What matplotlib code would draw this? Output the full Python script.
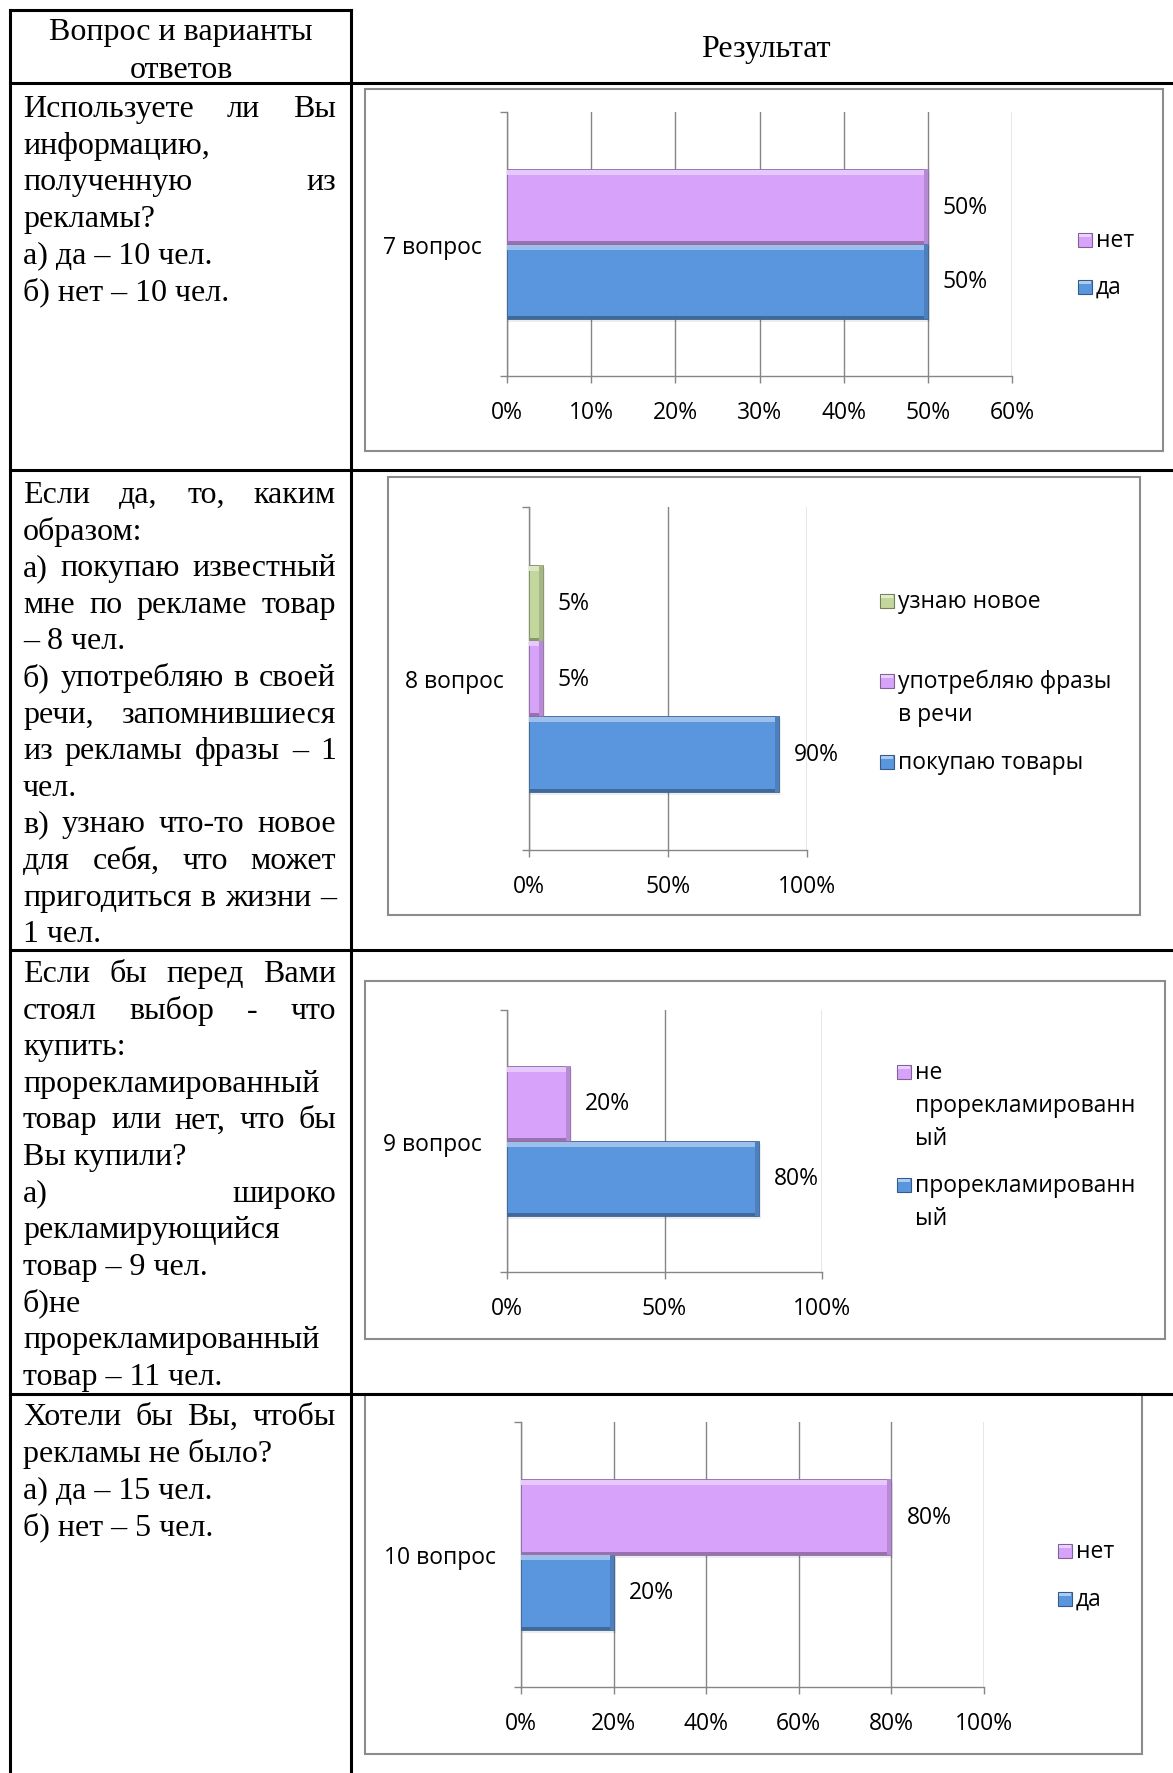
import numpy as np
import matplotlib
matplotlib.use("Agg")
import matplotlib.pyplot as plt
import matplotlib.colors as mcolors
from matplotlib.patches import Rectangle
from matplotlib.ticker import PercentFormatter

W, H = 1173, 1774

# survey results, % of respondents (first series is drawn at the bottom)
categories = ["7 вопрос", "8 вопрос", "9 вопрос", "10 вопрос"]
q7_labels = ["да", "нет"]
q7_values = [50, 50]
q8_labels = ["покупаю товары", "употребляю фразы\nв речи", "узнаю новое"]
q8_values = [90, 5, 5]
q9_labels = ["прорекламированн\nый", "не\nпрорекламированн\nый"]
q9_values = [80, 20]
q10_labels = ["да", "нет"]
q10_values = [20, 80]

series_colors = ["#5A96DE", "#D7A3FA", "#C3D69B"]

# left column: paragraphs split into lines as they wrap in the cell
row_text = [
    [["Используете ли Вы", "информацию,", "полученную из", "рекламы?"],
     ["а) да – 10 чел."],
     ["б) нет – 10 чел."]],
    [["Если да, то, каким", "образом:"],
     ["а) покупаю известный", "мне по рекламе товар", "– 8 чел."],
     ["б) употребляю в своей", "речи, запомнившиеся", "из рекламы фразы – 1", "чел."],
     ["в) узнаю что-то новое", "для себя, что может", "пригодиться в жизни –", "1 чел."]],
    [["Если бы перед Вами", "стоял выбор - что", "купить:", "прорекламированный",
      "товар или нет, что бы", "Вы купили?"],
     ["а) широко", "рекламирующийся", "товар – 9 чел."],
     ["б)не", "прорекламированный", "товар – 11 чел."]],
    [["Хотели бы Вы, чтобы", "рекламы не было?"],
     ["а) да – 15 чел."],
     ["б) нет – 5 чел."]],
]
row_first_baseline = [117, 503, 982, 1425]
line_step = 36.6

charts = [
    dict(cat=categories[0], labels=q7_labels, values=q7_values, xmax=60, step=10,
         box=(365, 90, 1163, 452), plot=(507, 113, 1012, 377), bar_px=75,
         legend_x=1078, legend_y=[288, 241]),
    dict(cat=categories[1], labels=q8_labels, values=q8_values, xmax=100, step=50,
         box=(388, 478, 1140, 916), plot=(529, 508, 807, 851), bar_px=75.5,
         legend_x=880, legend_y=[763, 682, 602]),
    dict(cat=categories[2], labels=q9_labels, values=q9_values, xmax=100, step=50,
         box=(365, 982, 1165, 1340), plot=(507, 1011, 822, 1273), bar_px=75,
         legend_x=897, legend_y=[1186, 1073]),
    dict(cat=categories[3], labels=q10_labels, values=q10_values, xmax=100, step=20,
         box=(365, 1395, 1142, 1755), plot=(521, 1423, 984, 1688), bar_px=75.5,
         legend_x=1058, legend_y=[1600, 1552]),
]

plt.rcParams["font.family"] = "Open Sans"
SERIF = "Liberation Serif"
SERIF_SIZE = 23
LABEL_SIZE = 16.5
GRID = "#868686"


def mix(color, other, t):
    c = np.array(mcolors.to_rgb(color))
    o = np.array(mcolors.to_rgb(other))
    return tuple(c * (1 - t) + o * t)


def to_fig(x0, y0, x1, y1):
    return [x0 / W, 1 - y1 / H, (x1 - x0) / W, (y1 - y0) / H]


fig = plt.figure(figsize=(W / 100, H / 100), dpi=100)
bg = fig.add_axes([0, 0, 1, 1])
bg.set_xlim(0, W)
bg.set_ylim(H, 0)
bg.axis("off")
renderer = fig.canvas.get_renderer()

# table grid
lw_table = 2.2
bg.plot([10, 10], [11, H], color="black", lw=lw_table)
bg.plot([351, 351], [11, H], color="black", lw=lw_table)
bg.plot([10, 351], [11, 11], color="black", lw=lw_table)
for y in [84, 471, 951, 1395]:
    bg.plot([10, W], [y, y], color="black", lw=lw_table)

# header
bg.text(181, 40, "Вопрос и варианты", family=SERIF, fontsize=SERIF_SIZE, ha="center", va="baseline")
bg.text(181, 78, "ответов", family=SERIF, fontsize=SERIF_SIZE, ha="center", va="baseline")
bg.text(766, 57, "Результат", family=SERIF, fontsize=SERIF_SIZE, ha="center", va="baseline")


def draw_line(text, y, justify, x0=23, x1=336):
    words = text.split()
    if not justify or len(words) < 2:
        bg.text(x0, y, text, family=SERIF, fontsize=SERIF_SIZE, ha="left", va="baseline")
        return
    items = [bg.text(0, y, w, family=SERIF, fontsize=SERIF_SIZE, ha="left", va="baseline")
             for w in words]
    widths = [t.get_window_extent(renderer).width for t in items]
    gap = (x1 - x0 - sum(widths)) / (len(words) - 1)
    x = x0
    for t, w in zip(items, widths):
        t.set_x(x)
        x += w + gap


for paragraphs, y in zip(row_text, row_first_baseline):
    for para in paragraphs:
        for i, line in enumerate(para):
            draw_line(line, y, justify=(i < len(para) - 1))
            y += line_step


def bevel_bars(ax, ys, values, h, colors, dx, dy):
    for y, v, c in zip(ys, values, colors):
        # soft shadow under the bar
        ax.barh(y - 3 * dy, v + 2 * dx, height=h, color="black", alpha=0.07, lw=0, zorder=2)
        ax.barh(y, v, height=h, color=c, edgecolor=mix(c, "black", 0.35), lw=0.6, zorder=3)
        ax.barh(y + h / 2 - 3 * dy, v, height=5 * dy, color=mix(c, "white", 0.4), lw=0, zorder=4)
        ax.barh(y - h / 2 + 1.5 * dy, v, height=3 * dy, color=mix(c, "black", 0.3), lw=0, zorder=4)
        edge = min(4 * dx, v * 0.3)
        ax.barh(y, edge, left=v - edge, height=h,
                color=mix(c, "black", 0.15), lw=0, zorder=4)


for ch in charts:
    bx0, by0, bx1, by1 = ch["box"]
    bg.add_patch(Rectangle((bx0, by0), bx1 - bx0, by1 - by0, fill=False,
                           edgecolor="#8C8C8C", lw=1.5))

    px0, py0, px1, py1 = ch["plot"]
    ax = fig.add_axes(to_fig(px0, py0, px1, py1))
    ax.set_facecolor("none")
    xmax = ch["xmax"]
    ax.set_xlim(0, xmax)
    ax.set_ylim(-0.5, 0.5)
    dx = xmax / (px1 - px0)
    dy = 1 / (py1 - py0)

    n = len(ch["values"])
    h = ch["bar_px"] * dy
    ys = [(i - (n - 1) / 2) * h for i in range(n)]
    bevel_bars(ax, ys, ch["values"], h, series_colors[:n], dx, dy)
    for y, v in zip(ys, ch["values"]):
        ax.annotate(f"{v}%", xy=(v, y), xytext=(15, 0), textcoords="offset pixels",
                    ha="left", va="center", fontsize=LABEL_SIZE, zorder=6)

    ax.set_xticks(np.arange(0, xmax + 1, ch["step"]))
    ax.xaxis.set_major_formatter(PercentFormatter(xmax=100, decimals=0))
    ax.grid(axis="x", color=GRID, lw=1.0)
    ax.set_axisbelow(True)
    ax.set_yticks([-0.5, 0.5])
    ax.set_yticklabels(["", ""])
    ax.set_yticks([0], minor=True)
    ax.set_yticklabels([ch["cat"]], minor=True)
    ax.tick_params(axis="y", which="major", length=5, color=GRID, width=1.0)
    ax.tick_params(axis="y", which="minor", length=0, pad=18, labelsize=LABEL_SIZE)
    ax.tick_params(axis="x", length=5, color=GRID, width=1.0, pad=12, labelsize=LABEL_SIZE)
    for side in ["top", "right"]:
        ax.spines[side].set_visible(False)
    for side in ["left", "bottom"]:
        ax.spines[side].set_color(GRID)
        ax.spines[side].set_linewidth(1.0)

    # legend, listed top to bottom in reverse series order
    lx = ch["legend_x"]
    for label, c, ly in zip(ch["labels"], series_colors[:n], ch["legend_y"]):
        bg.add_patch(Rectangle((lx, ly - 7), 14, 14, facecolor=c,
                               edgecolor=mix(c, "black", 0.4), lw=0.8))
        bg.add_patch(Rectangle((lx + 1, ly - 6), 12, 3, facecolor=mix(c, "white", 0.5), lw=0))
        for k, part in enumerate(label.split("\n")):
            bg.text(lx + 18, ly + k * 33, part, fontsize=LABEL_SIZE, ha="left", va="center")

fig.savefig("out.png", dpi=100)
